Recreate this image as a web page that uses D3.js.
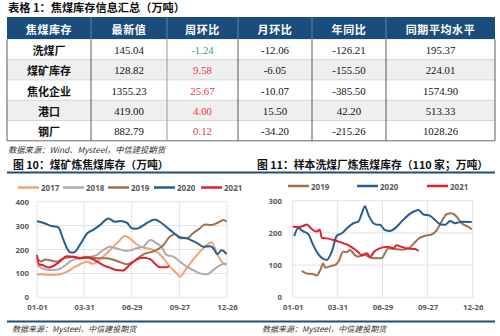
<!DOCTYPE html>
<html><head><meta charset="utf-8">
<script src="https://cdn.jsdelivr.net/npm/d3@7"></script>
<style>
html,body{margin:0;padding:0;background:#fff;}
svg{display:block;}
</style></head>
<body>
<script>
// ---------- table data ----------
const tableTitle = "表格 1：焦煤库存信息汇总（万吨）";
const tableHeaders = ["焦煤库存", "最新值", "周环比", "月环比", "年同比", "同期平均水平"];
const tableRows = ["洗煤厂", "煤矿库存", "焦化企业", "港口", "钢厂"];
const latestVals = ["145.04", "128.82", "1355.23", "419.00", "882.79"];
const weekChg = ["-1.24", "9.58", "25.67", "4.00", "0.12"];
const monthChg = ["-12.06", "-6.05", "-10.07", "15.50", "-34.20"];
const yoyChg = ["-126.21", "-155.50", "-385.50", "42.20", "-215.26"];
const avgLevel = ["195.37", "224.01", "1574.90", "513.33", "1028.26"];
const tableSource = "数据来源：Wind、Mysteel，中信建投期货";

// ---------- chart shared ----------
const tickDays = [0, 89, 179, 269, 359];
const tickLabels = ["01-01", "03-31", "06-29", "09-27", "12-26"];

// ---------- chart 10: mine coking coal inventory ----------
const mineTitle = "图 10：煤矿炼焦煤库存（万吨）";
const mineYTicks = [0, 100, 200, 300, 400];
const mineYears = ["2017", "2018", "2019", "2020", "2021"];
const mine2017 = [[0,97],[14,95],[28,93],[43,96],[55,105],[62,114],[72,128],[81,138],[94,149],[106,140],[119,160],[132,184],[144,212],[157,240],[165,256],[172,252],[179,240],[188,222],[201,208],[214,202],[226,191],[239,163],[251,128],[264,100],[270,86],[280,114],[292,149],[308,191],[321,219],[330,230],[340,184],[349,149],[358,135]];
const mine2018 = [[0,135],[10,121],[24,114],[37,115],[50,128],[62,149],[81,166],[100,170],[113,177],[121,191],[138,212],[150,205],[170,194],[179,198],[188,205],[201,212],[214,240],[226,226],[235,212],[245,177],[258,170],[270,149],[283,128],[295,114],[308,100],[321,96],[333,114],[346,135],[358,142]];
const mine2019 = [[0,163],[8,150],[15,158],[24,155],[37,149],[50,163],[69,170],[81,163],[94,170],[113,163],[132,163],[151,152],[170,138],[182,149],[190,163],[201,180],[214,188],[226,198],[239,219],[251,254],[261,264],[270,247],[283,247],[295,268],[308,289],[317,305],[330,303],[343,314],[353,323],[358,316]];
const mine2020 = [[0,318],[14,310],[28,298],[40,293],[50,240],[58,200],[63,188],[69,187],[81,219],[95,268],[106,282],[119,302],[135,330],[147,316],[157,319],[170,312],[179,289],[187,287],[195,293],[207,310],[215,320],[223,326],[232,316],[245,293],[258,270],[270,251],[283,247],[295,235],[302,228],[314,212],[327,214],[335,200],[340,180],[349,197],[358,181]];
const mine2021 = [[0,177],[3,140],[10,135],[22,125],[30,130],[43,149],[56,172],[69,170],[81,163],[94,165],[105,160],[113,150],[125,135],[136,125],[150,114],[162,112],[175,135],[186,155],[201,166],[214,160],[223,140],[233,126],[245,126],[250,131]];

// ---------- chart 11: washing plant coking coal inventory ----------
const plantTitle = "图 11：样本洗煤厂炼焦煤库存（110 家；万吨）";
const plantYTicks = [0, 100, 200, 300];
const plantYears = ["2019", "2020", "2021"];
const plant2019 = [[18,82],[28,74],[41,72],[48,68],[55,85],[61,105],[65,92],[78,98],[84,100],[91,110],[101,142],[108,140],[114,147],[124,131],[131,126],[141,134],[151,126],[164,121],[178,122],[184,137],[191,152],[204,150],[217,148],[231,152],[241,166],[251,182],[264,191],[277,195],[287,208],[297,235],[307,258],[317,261],[327,250],[337,230],[350,219],[357,211]];
const plant2020 = [[3,190],[11,215],[21,205],[31,196],[41,162],[51,134],[61,119],[68,116],[78,142],[88,191],[98,199],[108,214],[121,230],[131,235],[138,261],[144,283],[151,256],[161,230],[169,225],[174,225],[184,209],[194,206],[204,214],[217,235],[231,256],[244,268],[251,271],[260,258],[274,253],[284,240],[294,227],[304,225],[314,237],[324,230],[337,235],[357,234]];
const plant2021 = [[0,220],[11,218],[21,222],[28,226],[38,212],[47,204],[54,210],[58,185],[68,183],[81,178],[91,173],[101,168],[111,162],[121,152],[131,140],[138,129],[148,137],[154,126],[164,144],[174,152],[180,155],[189,157],[201,152],[207,162],[217,157],[227,152],[244,150],[251,144]];
const chartSource = "数据来源：Mysteel，中信建投期货";

const yearColors = {"2017":"#F4A077","2018":"#ABABAB","2019":"#A0714B","2020":"#255E91","2021":"#E0202E"};

// ---------- drawing ----------
const W = 500, H = 336;
const svg = d3.select("body").append("svg").attr("width", W).attr("height", H);
svg.append("rect").attr("width", W).attr("height", H).attr("fill", "#fff");

const cjk = "'Noto Sans CJK SC', 'Noto Sans', sans-serif";
const serif = "'Liberation Serif', 'DejaVu Serif', serif";

// table title
svg.append("text").attr("x", 8).attr("y", 12).text(tableTitle)
  .attr("font-family", cjk).attr("font-size", 11.2).attr("font-weight", "bold").attr("fill", "#111");

const colEdges = [7, 91, 167, 238, 312, 386, 495];
const headerTop = 17, headerBot = 39.3, rowH = 20.3;
const rowY = d3.scaleLinear().domain([0, 1]).range([headerBot, headerBot + rowH]);

svg.append("rect").attr("x", colEdges[0]).attr("y", headerTop)
  .attr("width", colEdges[6] - colEdges[0]).attr("height", headerBot - headerTop).attr("fill", "#1B4D7C");

const columns = [tableRows, latestVals, weekChg, monthChg, yoyChg, avgLevel];
tableRows.forEach((r, i) => {
  svg.append("rect").attr("x", colEdges[0]).attr("y", rowY(i))
    .attr("width", colEdges[6] - colEdges[0]).attr("height", rowH)
    .attr("fill", i % 2 === 1 ? "#EFEFEF" : "#fff");
});
d3.range(1, tableRows.length).forEach(i => {
  svg.append("line").attr("x1", colEdges[0]).attr("x2", colEdges[6])
    .attr("y1", rowY(i)).attr("y2", rowY(i)).attr("stroke", "#BFBFBF").attr("stroke-width", 0.6);
});
svg.append("line").attr("x1", colEdges[0]).attr("x2", colEdges[6])
  .attr("y1", rowY(tableRows.length)).attr("y2", rowY(tableRows.length)).attr("stroke", "#444").attr("stroke-width", 0.8);
colEdges.forEach((x, j) => {
  svg.append("line").attr("x1", x).attr("x2", x).attr("y1", headerBot).attr("y2", rowY(tableRows.length))
    .attr("stroke", j === 2 ? "#999" : "#333").attr("stroke-width", j === 2 ? 1 : 0.8);
  if (j > 0 && j < 6) svg.append("line").attr("x1", x).attr("x2", x).attr("y1", headerTop).attr("y2", headerBot)
    .attr("stroke", "#8FA8C4").attr("stroke-width", 0.6);
});
tableHeaders.forEach((h, j) => {
  svg.append("text").attr("x", (colEdges[j] + colEdges[j + 1]) / 2).attr("y", (headerTop + headerBot) / 2 + 0.5)
    .attr("text-anchor", "middle").attr("dominant-baseline", "central")
    .attr("font-family", cjk).attr("font-size", 11).attr("font-weight", "bold").attr("fill", "#fff")
    .attr("letter-spacing", 0.6).text(h);
});
columns.forEach((col, j) => {
  col.forEach((v, i) => {
    let fill = "#111";
    if (j === 2) fill = v.startsWith("-") ? "#2EA45A" : "#F0323C";
    svg.append("text").attr("x", (colEdges[j] + colEdges[j + 1]) / 2).attr("y", rowY(i) + rowH / 2 + 0.5)
      .attr("text-anchor", "middle").attr("dominant-baseline", "central")
      .attr("font-family", j === 0 ? cjk : serif).attr("font-size", j === 0 ? 11 : 10.8)
      .attr("font-weight", j === 0 ? "bold" : "normal").attr("fill", fill).text(v);
  });
});
svg.append("text").attr("x", 8).attr("y", 153).text(tableSource)
  .attr("font-family", cjk).attr("font-size", 8.3).attr("font-style", "italic").attr("fill", "#333");

// section lines
svg.append("line").attr("x1", 7).attr("x2", 495).attr("y1", 172.5).attr("y2", 172.5).attr("stroke", "#1F4E79").attr("stroke-width", 2);
svg.append("line").attr("x1", 7).attr("x2", 495).attr("y1", 321.5).attr("y2", 321.5).attr("stroke", "#1F4E79").attr("stroke-width", 2);

function drawChart(cfg) {
  const g = svg.append("g");
  g.append("text").attr("x", cfg.titleX).attr("y", 168.5).text(cfg.title)
    .attr("font-family", cjk).attr("font-size", 10.8).attr("font-weight", "bold").attr("fill", "#111");
  const x = d3.scaleLinear().domain([0, 359]).range([cfg.x0, cfg.x1]);
  const y = d3.scaleLinear().domain([0, d3.max(cfg.yTicks)]).range([297.3, cfg.yTop]);
  g.selectAll(".hg").data(cfg.yTicks).join("line")
    .attr("x1", cfg.x0).attr("x2", cfg.x1).attr("y1", d => y(d)).attr("y2", d => y(d))
    .attr("stroke", "#D9D9D9").attr("stroke-width", 0.8);
  g.selectAll(".vg").data(tickDays).join("line")
    .attr("x1", d => x(d)).attr("x2", d => x(d)).attr("y1", y(0)).attr("y2", cfg.yTop)
    .attr("stroke", "#D9D9D9").attr("stroke-width", 0.8);
  const ax = g.append("g").attr("transform", `translate(0,${y(0) + 4})`)
    .call(d3.axisBottom(x).tickValues(tickDays).tickFormat((d, i) => tickLabels[i]).tickSize(0));
  ax.select(".domain").remove();
  ax.selectAll("text").attr("font-family", "'Noto Sans', sans-serif").attr("font-size", 7.8)
    .attr("font-weight", "bold").attr("fill", "#595959");
  const ay = g.append("g").attr("transform", `translate(${cfg.yLabelX},0)`)
    .call(d3.axisLeft(y).tickValues(cfg.yTicks).tickSize(0).tickPadding(0));
  ay.select(".domain").remove();
  ay.selectAll("text").attr("font-family", "'Noto Sans', sans-serif").attr("font-size", 7.8)
    .attr("font-weight", "bold").attr("fill", "#595959");
  const line = d3.line().x(d => x(d[0])).y(d => y(d[1])).curve(d3.curveMonotoneX);
  cfg.series.forEach(s => {
    g.append("path").attr("d", line(s.data)).attr("fill", "none")
      .attr("stroke", yearColors[s.name]).attr("stroke-width", 2).attr("stroke-linejoin", "round");
  });
  cfg.series.forEach((s, i) => {
    const lx = cfg.legendX[i];
    g.append("line").attr("x1", lx).attr("x2", lx + 21).attr("y1", cfg.legendY).attr("y2", cfg.legendY)
      .attr("stroke", yearColors[s.name]).attr("stroke-width", 2.5);
    g.append("text").attr("x", lx + 23).attr("y", cfg.legendY).attr("dominant-baseline", "central")
      .attr("font-family", "'Noto Sans', sans-serif").attr("font-size", 8).attr("font-weight", "bold")
      .attr("fill", "#595959").text(s.name);
  });
  g.append("text").attr("x", cfg.srcX).attr("y", 331.5).text(chartSource)
    .attr("font-family", cjk).attr("font-size", 8).attr("font-style", "italic").attr("fill", "#333");
}

drawChart({
  title: mineTitle, titleX: 13, x0: 37, x1: 227, yTop: 201.7, yTicks: mineYTicks, yLabelX: 29,
  series: [
    {name: mineYears[0], data: mine2017}, {name: mineYears[1], data: mine2018},
    {name: mineYears[2], data: mine2019}, {name: mineYears[3], data: mine2020},
    {name: mineYears[4], data: mine2021}
  ],
  legendX: [18, 63, 108, 154, 201], legendY: 187.5, srcX: 12
});
drawChart({
  title: plantTitle, titleX: 257, x0: 292.7, x1: 472.7, yTop: 200.7, yTicks: plantYTicks, yLabelX: 282,
  series: [
    {name: plantYears[0], data: plant2019}, {name: plantYears[1], data: plant2020},
    {name: plantYears[2], data: plant2021}
  ],
  legendX: [288, 357, 427], legendY: 186, srcX: 262
});
</script>
</body></html>
